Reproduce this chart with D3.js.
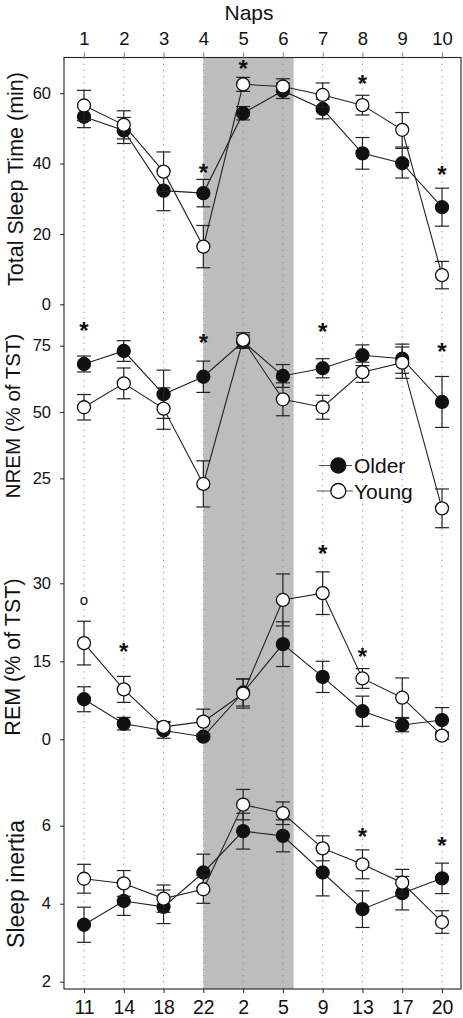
<!DOCTYPE html>
<html>
<head>
<meta charset="utf-8">
<script src="https://cdn.jsdelivr.net/npm/d3@7/dist/d3.min.js"></script>
<style>
  html, body { margin: 0; padding: 0; background: #fff; }
  svg { display: block; }
  text { font-family: "Liberation Sans", Arial, Helvetica, sans-serif; fill: #111; }
</style>
</head>
<body>
<svg id="chart" width="463" height="1018"></svg>
<script>
// ---------------- data ----------------
const naps = [1, 2, 3, 4, 5, 6, 7, 8, 9, 10];
const clockLabels = ["11", "14", "18", "22", "2", "5", "9", "13", "17", "20"];
const nightBand = [4, 6.27];

const tstOlder    = [53.3, 49.4, 32.3, 31.6, 54.3, 60.7, 55.5, 42.9, 40.1, 27.6];
const tstOlderErr = [3.1, 3.7, 5.7, 3.9, 1.9, 2.2, 2.8, 4.5, 4.2, 5.4];
const tstYoung    = [56.5, 51.0, 37.7, 16.4, 62.5, 61.9, 59.5, 56.6, 49.6, 8.3];
const tstYoungErr = [4.3, 4.0, 5.6, 6.0, 2.0, 2.2, 3.4, 2.8, 4.9, 3.9];

const nremOlder    = [68.1, 73.0, 56.7, 63.3, 76.5, 63.6, 66.5, 71.4, 70.1, 53.8];
const nremOlderErr = [3.0, 3.9, 9.1, 5.9, 2.5, 4.3, 3.6, 3.9, 5.5, 9.6];
const nremYoung    = [51.8, 60.8, 51.3, 22.9, 77.2, 54.8, 51.8, 65.0, 68.6, 13.7];
const nremYoungErr = [4.8, 5.8, 7.8, 8.7, 2.7, 6.2, 4.5, 3.8, 5.9, 7.3];

const remOlder    = [7.7, 3.0, 1.7, 0.5, 9.0, 18.3, 12.0, 5.4, 2.75, 3.7];
const remOlderErr = [2.4, 1.2, 1.5, 0.5, 2.6, 4.3, 3.0, 2.9, 1.3, 2.4];
const remYoung    = [18.5, 9.6, 2.4, 3.4, 8.8, 26.8, 28.1, 11.7, 8.0, 0.7];
const remYoungErr = [4.2, 2.5, 1.0, 2.4, 2.8, 5.0, 4.1, 1.9, 3.8, 0.7];

const inertiaOlder    = [3.46, 4.07, 3.92, 4.80, 5.86, 5.74, 4.80, 3.86, 4.27, 4.65];
const inertiaOlderErr = [0.45, 0.37, 0.43, 0.47, 0.46, 0.41, 0.60, 0.47, 0.43, 0.39];
const inertiaYoung    = [4.64, 4.52, 4.13, 4.37, 6.54, 6.32, 5.42, 5.01, 4.54, 3.53];
const inertiaYoungErr = [0.37, 0.33, 0.35, 0.36, 0.39, 0.29, 0.32, 0.37, 0.34, 0.29];

const tstTicks = [0, 20, 40, 60];
const nremTicks = [25, 50, 75];
const remTicks = [0, 15, 30];
const inertiaTicks = [2, 4, 6];

// significance marks: [nap, value, symbol]
const tstMarks = [[4, 38.8, "*"], [5, 68.5, "*"], [8, 64.3, "*"], [10, 38.2, "*"]];
const nremMarks = [[1, 82.8, "*"], [4, 78.2, "*"], [7, 82.2, "*"], [10, 74.6, "*"]];
const remMarks = [[1, 26.6, "o"], [2, 17.8, "*"], [7, 36.7, "*"], [8, 16.8, "*"]];
const inertiaMarks = [[8, 5.85, "*"], [10, 5.62, "*"]];

// ---------------- layout ----------------
const svg = d3.select("#chart");
const frame = { left: 64, right: 461, top: 57.5, bottom: 989 };
const x = d3.scaleLinear().domain([1, 10]).range([84, 442]);

const panels = [
  { label: "Total Sleep Time (min)", y: d3.scaleLinear().domain([0, 70]).range([304.3, 58]),
    ticks: tstTicks, older: tstOlder, olderErr: tstOlderErr, young: tstYoung, youngErr: tstYoungErr,
    marks: tstMarks, labelY: 179, labelX: 22.5, fs: 21.5 },
  { label: "NREM (% of TST)", y: d3.scaleLinear().domain([0, 75]).range([544.7, 345.7]),
    ticks: nremTicks, older: nremOlder, olderErr: nremOlderErr, young: nremYoung, youngErr: nremYoungErr,
    marks: nremMarks, labelY: 416, labelX: 19.5, fs: 20.5 },
  { label: "REM (% of TST)", y: d3.scaleLinear().domain([0, 30]).range([739.3, 583.3]),
    ticks: remTicks, older: remOlder, olderErr: remOlderErr, young: remYoung, youngErr: remYoungErr,
    marks: remMarks, labelY: 657, labelX: 20, fs: 21.5 },
  { label: "Sleep inertia", y: d3.scaleLinear().domain([2, 6]).range([981.7, 825.7]),
    ticks: inertiaTicks, older: inertiaOlder, olderErr: inertiaOlderErr, young: inertiaYoung, youngErr: inertiaYoungErr,
    marks: inertiaMarks, labelY: 884, labelX: 23.5, fs: 23 }
];

// night shading
svg.append("rect")
  .attr("x", x(nightBand[0])).attr("y", frame.top)
  .attr("width", x(nightBand[1]) - x(nightBand[0]))
  .attr("height", frame.bottom - frame.top)
  .attr("fill", "#bdbdbd");

// dotted vertical gridlines
svg.append("g").selectAll("line").data(naps).join("line")
  .attr("x1", d => x(d)).attr("x2", d => x(d))
  .attr("y1", frame.top).attr("y2", frame.bottom)
  .attr("stroke", "#8a8a8a").attr("stroke-width", 1)
  .attr("stroke-dasharray", "1.2,5");

// frame
svg.append("rect")
  .attr("x", frame.left).attr("y", frame.top)
  .attr("width", frame.right - frame.left).attr("height", frame.bottom - frame.top)
  .attr("fill", "none").attr("stroke", "#222").attr("stroke-width", 1.1);

// top axis (nap numbers)
const topAxis = svg.append("g").attr("transform", `translate(0,${frame.top})`)
  .call(d3.axisTop(x).tickValues(naps).tickFormat(d3.format("d")).tickSize(5).tickPadding(7.5));
topAxis.select(".domain").remove();
topAxis.selectAll(".tick line").attr("stroke", "#888");
topAxis.selectAll(".tick text").attr("font-size", 18.5).style("font-family", '"Liberation Sans", Arial, sans-serif').attr("fill", "#111");

svg.append("text").attr("x", 249).attr("y", 19.5).attr("text-anchor", "middle")
  .attr("font-size", 21).text("Naps");

// bottom axis (clock time)
const bottomAxis = svg.append("g").attr("transform", `translate(0,${frame.bottom})`)
  .call(d3.axisBottom(x).tickValues(naps).tickFormat((d, i) => clockLabels[i]).tickSize(4).tickPadding(10));
bottomAxis.select(".domain").remove();
bottomAxis.selectAll(".tick line").attr("stroke", "#222");
bottomAxis.selectAll(".tick text").attr("font-size", 19.5).attr("dy", null).attr("y", 24.5)
  .style("font-family", '"Liberation Sans", Arial, sans-serif').attr("fill", "#111");

// panels
panels.forEach(p => {
  const ax = svg.append("g").attr("transform", `translate(${frame.left},0)`)
    .call(d3.axisLeft(p.y).tickValues(p.ticks).tickFormat(d3.format("d")).tickSize(4).tickPadding(9));
  ax.select(".domain").remove();
  ax.selectAll(".tick line").attr("stroke", "#222");
  ax.selectAll(".tick text").attr("font-size", 16.5)
    .style("font-family", '"Liberation Sans", Arial, sans-serif').attr("fill", "#111");

  svg.append("text")
    .attr("transform", `translate(${p.labelX},${p.labelY}) rotate(-90)`)
    .attr("text-anchor", "middle").attr("font-size", p.fs).text(p.label);

  const series = [
    { vals: p.older, errs: p.olderErr, fill: "#111" },
    { vals: p.young, errs: p.youngErr, fill: "#fff" }
  ];
  const line = d3.line().x((d, i) => x(naps[i])).y(d => p.y(d));

  series.forEach(s => {
    const g = svg.append("g");
    const eb = g.selectAll("g.eb").data(s.vals).join("g");
    eb.append("line")
      .attr("x1", (d, i) => x(naps[i])).attr("x2", (d, i) => x(naps[i]))
      .attr("y1", (d, i) => p.y(d + s.errs[i])).attr("y2", (d, i) => p.y(d - s.errs[i]))
      .attr("stroke", "#222").attr("stroke-width", 1.2);
    [1, -1].forEach(sign => {
      eb.append("line")
        .attr("x1", (d, i) => x(naps[i]) - 7).attr("x2", (d, i) => x(naps[i]) + 7)
        .attr("y1", (d, i) => p.y(d + sign * s.errs[i])).attr("y2", (d, i) => p.y(d + sign * s.errs[i]))
        .attr("stroke", "#222").attr("stroke-width", 1.2);
    });
    g.append("path").datum(s.vals).attr("d", line)
      .attr("fill", "none").attr("stroke", "#222").attr("stroke-width", 1.1);
    g.selectAll("circle").data(s.vals).join("circle")
      .attr("cx", (d, i) => x(naps[i])).attr("cy", d => p.y(d)).attr("r", 6.5)
      .attr("fill", s.fill).attr("stroke", "#111").attr("stroke-width", 1.3);
  });

  svg.append("g").selectAll("text").data(p.marks).join("text")
    .attr("x", d => x(d[0])).attr("y", d => p.y(d[1]) + (d[2] === "*" ? 13.5 : 4.5))
    .attr("text-anchor", "middle")
    .attr("font-size", d => d[2] === "*" ? 24 : 15)
    .attr("font-weight", d => d[2] === "*" ? "bold" : "normal")
    .text(d => d[2]);
});

// legend
const legendItems = [
  { name: "Older", fill: "#111", y: 465.5, x1: 319, x2: 352 },
  { name: "Young", fill: "#fff", y: 491, x1: 317, x2: 353 }
];
const lg = svg.append("g");
legendItems.forEach(it => {
  lg.append("line").attr("x1", it.x1).attr("x2", it.x2).attr("y1", it.y).attr("y2", it.y)
    .attr("stroke", "#555").attr("stroke-width", 1.1);
  lg.append("circle").attr("cx", 338.3).attr("cy", it.y).attr("r", 7.5)
    .attr("fill", it.fill).attr("stroke", "#111").attr("stroke-width", 1.3);
  lg.append("text").attr("x", 354).attr("y", it.y + 7.8).attr("font-size", 21).text(it.name);
});
</script>
</body>
</html>
